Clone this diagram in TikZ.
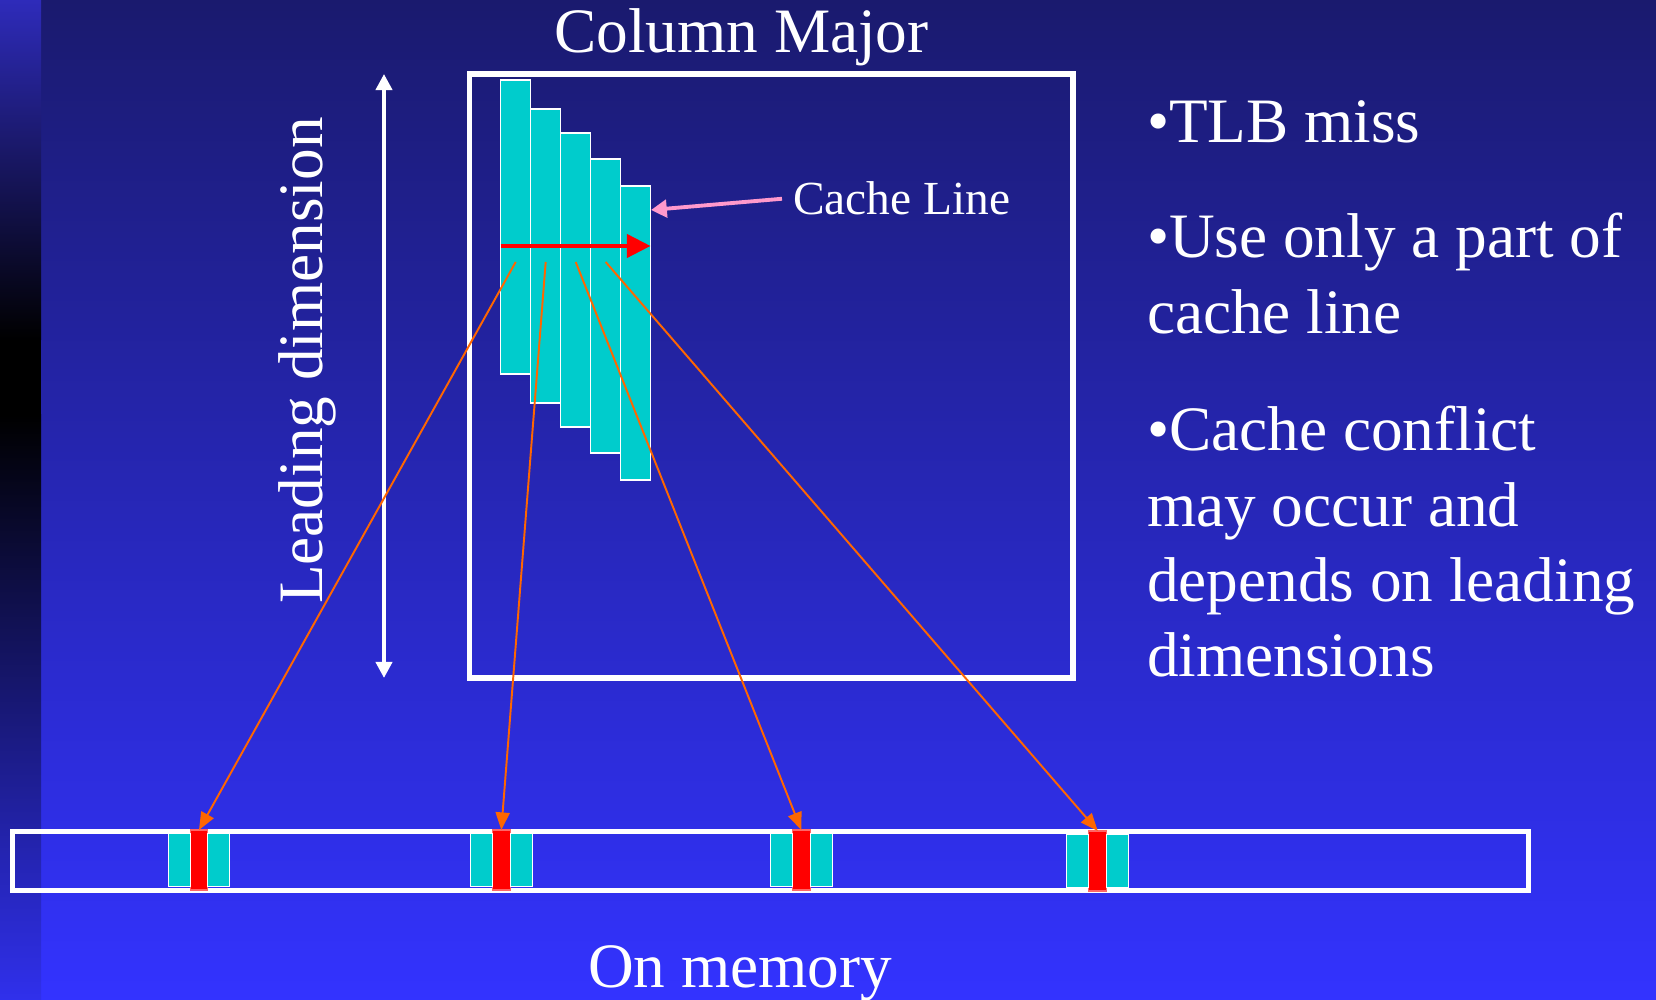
\documentclass[tikz,border=0pt]{standalone}
\usepackage{fontspec}
\setmainfont{Liberation Serif}
\usepackage{xcolor}
\usetikzlibrary{positioning,arrows.meta}

\definecolor{slidetop}{RGB}{26,26,110}
\definecolor{slidebot}{RGB}{51,51,255}
\definecolor{striptop}{RGB}{46,43,186}
\definecolor{stripmid}{RGB}{30,30,118}
\definecolor{striplow}{RGB}{32,32,145}
\definecolor{stripbot}{RGB}{48,48,236}
\definecolor{cellcyan}{RGB}{0,204,204}
\definecolor{ptrorange}{RGB}{255,102,0}
\definecolor{labelpink}{RGB}{255,153,204}

\begin{document}
\begin{tikzpicture}[
    node distance=0cm,
    outer sep=0pt,
    col/.style={draw=white, line width=0.3pt, fill=cellcyan, minimum width=0.3cm, minimum height=2.94cm, inner sep=0pt},
    cell/.style={draw=white, line width=0.3pt, fill=cellcyan, minimum width=0.22cm, minimum height=0.535cm, inner sep=0pt},
    hit/.style={draw=red!60!white, line width=0.3pt, fill=red, minimum width=0.177cm, minimum height=0.6cm, inner sep=0pt},
    frame/.style={draw=white, inner sep=0pt},
    txt/.style={text=white, inner sep=0pt, font=\fontsize{18}{21.4}\selectfont},
    ptr/.style={ptrorange, line width=0.55pt, -{Triangle[length=5pt,width=4pt]}}
]
    \useasboundingbox (0,0) rectangle (16.56,-10);
    % slide background
    \shade[top color=slidetop, bottom color=slidebot] (0,0) rectangle (16.56,-10);
    \shade[top color=striptop, middle color=stripmid, bottom color=black] (0,0) rectangle (0.41,-3.4);
    \fill[black] (0,-3.4) rectangle (0.41,-4.15);
    \shade[top color=black, middle color=striplow, bottom color=stripbot] (0,-4.15) rectangle (0.41,-10);

    \node [txt, anchor=base] (title) at (7.415,-0.53) {Column Major};
    \node [frame, line width=1.7pt, minimum width=6.035cm, minimum height=6.04cm] (colbox) at (7.7125,-3.76) {};

    % columns of the matrix
    \node [col] (c1) at (5.157,-2.27) {};
    \node [col, below right=0.29cm and 0cm of c1.north east] (c2) {};
    \node [col, below right=0.24cm and 0cm of c2.north east] (c3) {};
    \node [col, below right=0.26cm and 0cm of c3.north east] (c4) {};
    \node [col, below right=0.27cm and 0cm of c4.north east] (c5) {};

    \coordinate (scan) at (0,-2.46);
    \draw [red, line width=1.4pt, -{Triangle[length=6.8pt,width=6.5pt]}] (c1.west |- scan) -- (c5.east |- scan);

    \node [text=white, inner ysep=0pt, inner xsep=0.11cm, anchor=base west, font=\fontsize{13.5}{16}\selectfont] (cline) at (7.82,-2.15) {Cache Line};
    \coordinate (clend) at (6.51,-2.10);
    \draw [labelpink, line width=1.1pt, -{Triangle[length=4.5pt,width=5pt]}] (cline.west) -- (clend);

    % leading dimension
    \coordinate (ld) at (3.84,0);
    \draw [white, line width=1.1pt, {Triangle[length=4.6pt,width=4.6pt]}-{Triangle[length=4.6pt,width=4.6pt]}] (colbox.north -| ld) -- (colbox.south -| ld);
    \node [txt, rotate=90, anchor=base west] (ldlabel) at (3.22,-6.04) {Leading dimension};

    % memory
    \node [frame, line width=1.42pt, minimum width=15.155cm, minimum height=0.59cm] (mem) at (7.7025,-8.61) {};
    \node [hit] (m1) at (1.99,-8.60) {};
    \node [cell, left=of m1] (m1a) {};
    \node [cell, right=of m1] (m1b) {};
    \node [hit] (m2) at (5.013,-8.60) {};
    \node [cell, left=of m2] (m2a) {};
    \node [cell, right=of m2] (m2b) {};
    \node [hit] (m3) at (8.013,-8.60) {};
    \node [cell, left=of m3] (m3a) {};
    \node [cell, right=of m3] (m3b) {};
    \node [hit] (m4) at (10.978,-8.61) {};
    \node [cell, left=of m4] (m4a) {};
    \node [cell, right=of m4] (m4b) {};
    \node [txt, anchor=base] (memlabel) at (7.40,-9.88) {On memory};

    \coordinate (tap) at (0,-2.62);
    \draw [ptr] (c1 |- tap) -- (m1.north);
    \draw [ptr] (c2 |- tap) -- (m2.north);
    \draw [ptr] (c3 |- tap) -- (m3.north);
    \draw [ptr] (c4 |- tap) -- (m4.north);

    % remarks
    \node [txt, anchor=base west] (tlb) at (11.47,-1.43) {•TLB miss};
    \node [txt, anchor=base west] (part) at (11.47,-2.58) {\begin{tabular}[t]{@{}l@{}}•Use only a part of\\cache line\end{tabular}};
    \node [txt, anchor=base west] (conflict) at (11.47,-4.51) {\begin{tabular}[t]{@{}l@{}}•Cache conflict\\may occur and\\depends on leading\\dimensions\end{tabular}};
\end{tikzpicture}
\end{document}
